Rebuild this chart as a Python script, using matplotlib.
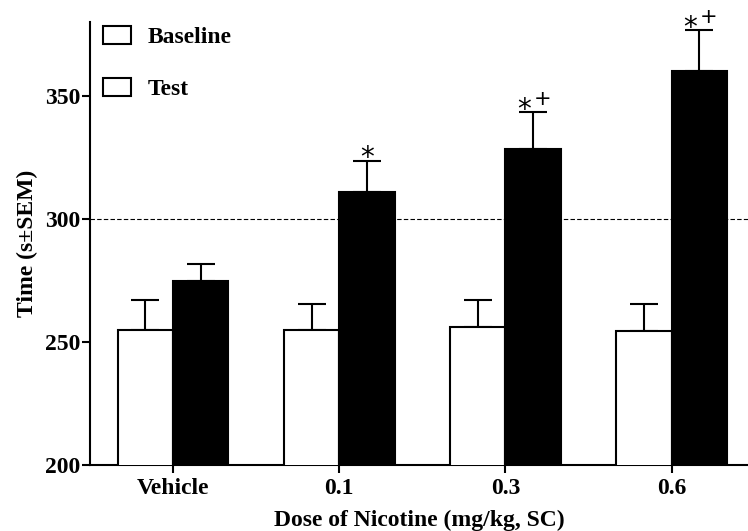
import matplotlib
matplotlib.use("Agg")
import matplotlib.pyplot as plt
from matplotlib.patches import Patch
import numpy as np

categories = ["Vehicle", "0.1", "0.3", "0.6"]
baseline = [255.0, 254.7, 256.2, 254.6]
baseline_sem = [12.2, 10.6, 10.8, 10.9]
test = [274.6, 310.9, 328.3, 359.9]
test_sem = [7.2, 12.7, 15.1, 16.8]
star_marks = [False, True, True, True]
plus_marks = [False, False, True, True]
yticks = [200, 250, 300, 350]

plt.rcParams['font.family'] = ['Liberation Serif', 'DejaVu Serif']
plt.rcParams['font.weight'] = 'bold'

fig = plt.figure(figsize=(7.48, 5.31), dpi=100)
ax = fig.add_axes([0.1203, 0.1243, 0.8797, 0.8343])

x = np.arange(len(categories))
w = 1/3
lw = 1.5
ax.axhline(300, color='black', lw=0.8, ls=(0, (4, 2)), zorder=1)
ax.bar(x - w/2, baseline, width=w, color='white', edgecolor='black',
       linewidth=lw, zorder=3)
ax.bar(x + w/2, test, width=w, color='black', edgecolor='black', linewidth=lw, zorder=3)
ax.errorbar(x - w/2, baseline, yerr=[np.zeros(4), baseline_sem], fmt='none',
            ecolor='black', elinewidth=lw, capsize=10.4, capthick=lw, zorder=2)
ax.errorbar(x + w/2, test, yerr=[np.zeros(4), test_sem], fmt='none',
            ecolor='black', elinewidth=lw, capsize=10.4, capthick=lw, zorder=2)

for i in range(len(categories)):
    top = test[i] + test_sem[i]
    if star_marks[i]:
        dx = -6.5 if plus_marks[i] else 0
        ax.annotate("*", (x[i] + w/2, top), xytext=(dx, -4),
                    textcoords='offset points', ha='center', va='baseline',
                    fontsize=20, fontweight='normal', family='DejaVu Sans')
    if plus_marks[i]:
        ax.annotate("+", (x[i] + w/2, top), xytext=(7, 5),
                    textcoords='offset points', ha='center', va='baseline',
                    fontsize=15, fontweight='normal', family='DejaVu Sans')

ax.set_ylim(200, 380)
ax.set_xlim(-0.5, 3.46)
ax.set_yticks(yticks)
ax.set_xticks(x)
ax.set_xticklabels(categories)
ax.tick_params(axis='both', labelsize=17, width=lw, length=6, direction='out')
ax.tick_params(axis='y', pad=1)
for s in ['top', 'right']:
    ax.spines[s].set_visible(False)
for s in ['left', 'bottom']:
    ax.spines[s].set_linewidth(lw)

ax.set_xlabel("Dose of Nicotine (mg/kg, SC)", fontsize=17, fontweight='bold', labelpad=8)
ax.set_ylabel("Time (s\u00b1SEM)", fontsize=17, fontweight='bold', labelpad=5)

handles = [Patch(facecolor='white', edgecolor='black', linewidth=lw),
           Patch(facecolor='white', edgecolor='black', linewidth=lw)]
ax.legend(handles, ["Baseline", "Test"], loc='upper left', frameon=False,
          bbox_to_anchor=(-0.013, 1.038), handlelength=1.2,
          handleheight=0.75, handletextpad=0.7, labelspacing=1.27,
          prop={'weight': 'bold', 'size': 17})

fig.savefig("out.png", dpi=100)
